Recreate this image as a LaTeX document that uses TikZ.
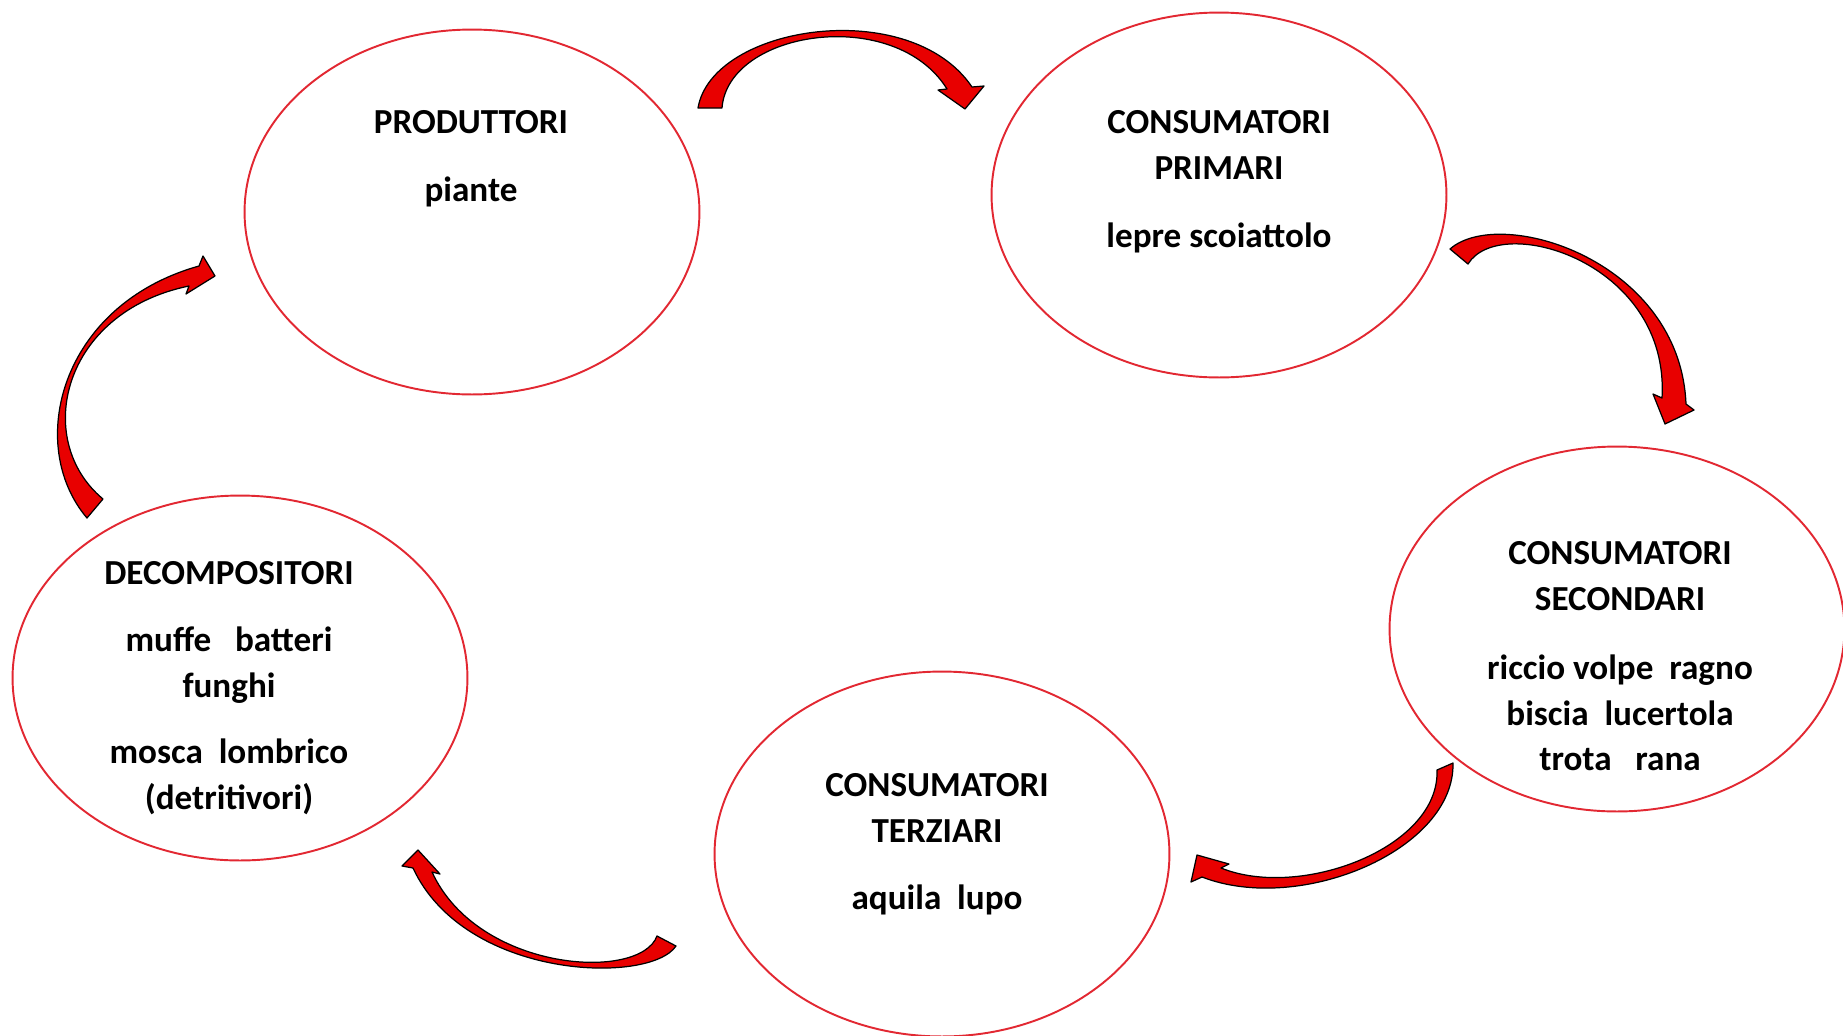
\documentclass[tikz,border=0pt]{standalone}
\usepackage{fontspec}
\setmainfont{Carlito}
\usetikzlibrary{shapes.geometric, positioning, calc}
\definecolor{RingColor}{RGB}{226,40,50}
\definecolor{ArrowColor}{RGB}{232,0,0}
\tikzstyle{ring} = [draw=RingColor, line width=1.1pt, ellipse, minimum width=9.1cm, minimum height=7.3cm, inner sep=0pt]
\tikzstyle{txt} = [font=\bfseries\fontsize{20}{26}\selectfont, align=center, inner sep=0pt]
\tikzstyle{flow} = [draw=black, line width=0.7pt, fill=ArrowColor, line join=round]

\begin{document}
\begin{tikzpicture}[x=0.02cm, y=-0.02cm]
    \useasboundingbox (0,0) rectangle (1843,1035);

    % Rings
    \node[ring] (prod) at (472,212) {};
    \node[ring] (prim) at (1219,195) {};
    \node[ring] (sec) at (1617,629) {};
    \node[ring] (terz) at (942,854) {};
    \node[ring] (dec) at (240,678) {};

    % Texts
    \node[txt] (prodT) at (471,122) {PRODUTTORI};
    \node[txt] (prodE) at (471,192) {piante};
    \node[txt] (primT) at (1219,145) {CONSUMATORI\\PRIMARI};
    \node[txt] (primE) at (1219,238) {lepre scoiattolo};
    \node[txt] (secT) at (1620,576) {CONSUMATORI\\SECONDARI};
    \node[txt] (secE) at (1620,713) {riccio volpe\ \ ragno\\biscia\ \ lucertola\\trota\ \ \ rana};
    \node[txt] (terzT) at (937,808) {CONSUMATORI\\TERZIARI};
    \node[txt] (terzE) at (937,900) {aquila\ \ lupo};
    \node[txt] (decT) at (229,573) {DECOMPOSITORI};
    \node[txt] (decE) at (229,665) {muffe\ \ \ batteri\\funghi};
    \node[txt] (decF) at (229,777) {mosca\ \ lombrico\\(detritivori)};

    % Arrows
    \draw[flow] (698,108) .. controls (712,25) and (910,-5) .. (972,87)
        -- (984,86) -- (965,109) -- (938,90) -- (947,89)
        .. controls (895,5) and (728,30) .. (722,108) -- cycle;
    \draw[flow] (1450,249) .. controls (1500,205) and (1680,260) .. (1686,404)
        -- (1694,410) -- (1665,424) -- (1653,394) -- (1662,398)
        .. controls (1670,262) and (1500,212) .. (1468,264) -- cycle;
    \draw[flow] (1453,763) .. controls (1455,850) and (1300,915) .. (1202,877)
        -- (1191,882) -- (1197,855) -- (1229,864) -- (1221,868)
        .. controls (1300,900) and (1440,848) .. (1437,770) -- cycle;
    \draw[flow] (676,946) .. controls (650,985) and (465,980) .. (413,868)
        -- (402,866) -- (418,850) -- (440,874) -- (432,872)
        .. controls (478,972) and (640,982) .. (657,936) -- cycle;
    \draw[flow] (87,518) .. controls (25,445) and (60,305) .. (199,266)
        -- (203,256) -- (215,276) -- (186,294) -- (189,286)
        .. controls (62,312) and (32,440) .. (103,499) -- cycle;
\end{tikzpicture}
\end{document}
